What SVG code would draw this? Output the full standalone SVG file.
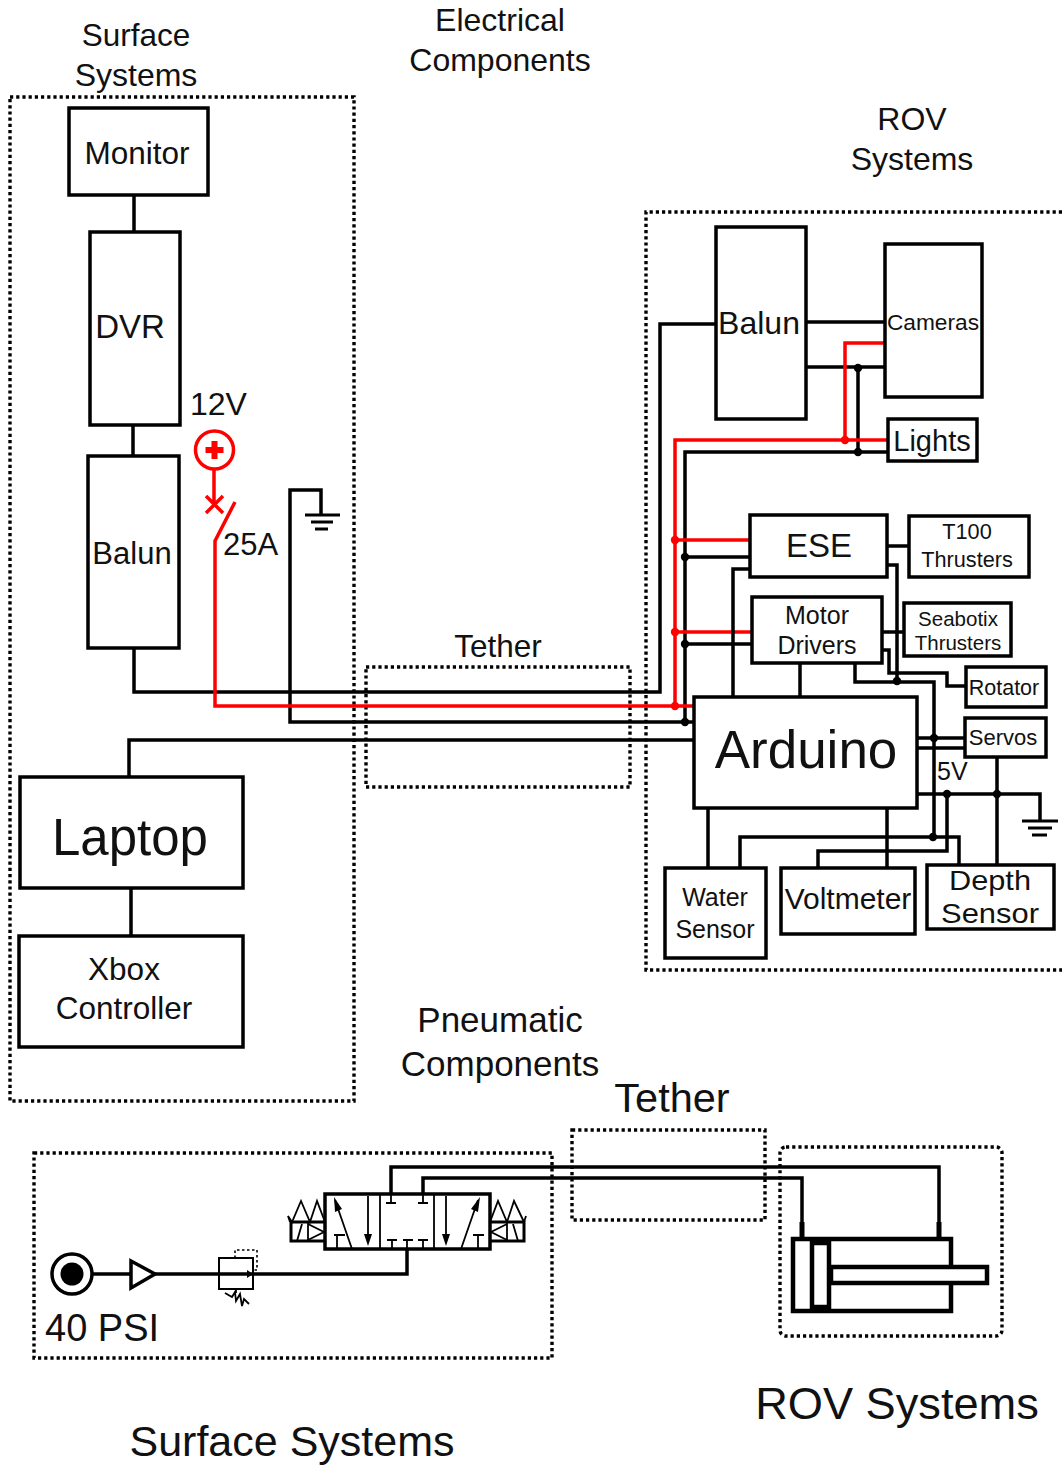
<svg xmlns="http://www.w3.org/2000/svg" width="1062" height="1465" viewBox="0 0 1062 1465">
<style>
text{font-family:"Liberation Sans",Arial,sans-serif;fill:#111;text-anchor:middle}
.s{text-anchor:start}
.n{fill:#fff;stroke:#000;stroke-width:3.5}
.w{fill:none;stroke:#000;stroke-width:3.5}
.r{fill:none;stroke:#f00;stroke-width:3.5}
.t{fill:none;stroke:#000;stroke-width:1.8}
.d{fill:none;stroke:#000;stroke-width:3.4;stroke-dasharray:3.2 3}
.dk{fill:#000}
.dr{fill:#f00}
</style>
<g id="boundaries">
<rect class="d" x="10" y="97" width="344" height="1004"/>
<path class="d" d="M1062 212H646V970H1062"/>
<rect class="d" x="366" y="667" width="264" height="120"/>
<rect class="d" x="34" y="1153" width="518" height="205"/>
<rect class="d" x="572" y="1130" width="193" height="90"/>
<rect class="d" x="780" y="1147" width="222" height="189" rx="6"/>
</g>
<g id="connectors">
<path class="w" d="M134 195V232M133 425V456M131 888V936"/>
<path class="w" d="M134 648V692H660V324H716"/>
<path class="w" d="M129 777V740H694"/>
<path class="w" d="M693 722H290V490H321V515"/>
<path class="w" d="M305 515H340M311 522H333M315 529H328" style="stroke-width:3"/>
<path class="w" d="M685 722V452H888"/>
<path class="w" d="M806 322H885M806 367H885M858 367V452"/>
<path class="r" d="M885 343H845V440"/>
<path class="r" d="M693 706H215V541L235 502"/>
<path class="r" d="M675 706V440H888"/>
<path class="r" d="M214 469V503M206 496L223 513M223 496L206 513"/>
<path class="r" d="M675 540H750M675 632H752"/>
<path class="w" d="M685 557H750M685 644H752M750 569H733V697M800 663V697"/>
<path class="w" d="M887 546H909M882 632H904"/>
<path class="w" d="M887 565H897V681"/>
<path class="w" d="M882 650H889V673H947V686H966"/>
<path class="w" d="M855 663V682H934V838"/>
<path class="w" d="M917 738H965M917 748H965M917 794H1040V821"/>
<path class="w" d="M1022 821H1058M1028 828H1052M1032 835H1047" style="stroke-width:3"/>
<path class="w" d="M947 794V851H818V868M997 757V865M708 808V868M887 808V868M740 868V837H959V865"/>
<g class="dk">
<circle cx="858" cy="368" r="4.2"/><circle cx="858" cy="452" r="4.2"/>
<circle cx="685" cy="557" r="4.2"/><circle cx="685" cy="644" r="4.2"/><circle cx="685" cy="722" r="4.2"/>
<circle cx="897" cy="681" r="4.2"/><circle cx="934" cy="738" r="4.2"/><circle cx="933" cy="837" r="4.2"/>
<circle cx="947" cy="794" r="4.2"/><circle cx="997" cy="794" r="4.2"/>
</g>
<g class="dr">
<circle cx="845" cy="440" r="4.2"/><circle cx="675" cy="540" r="4.2"/><circle cx="675" cy="632" r="4.2"/><circle cx="675" cy="706" r="4.2"/>
</g>
<path class="w" d="M92 1274H130M155 1274H407V1249"/>
<path class="w" d="M391 1194V1167H939V1222"/>
<path class="w" d="M423 1194V1178H802V1222"/>
<path class="w" d="M802 1222V1238M939 1222V1238" style="stroke-width:5"/>
</g>
<g id="monitor"><rect class="n" x="69" y="108" width="139" height="87"/><text x="137" y="164" font-size="31.5">Monitor</text></g>
<g id="dvr"><rect class="n" x="90" y="232" width="90" height="193"/><text x="130" y="338" font-size="33">DVR</text></g>
<g id="balun-surface"><rect class="n" x="88" y="456" width="91" height="192"/><text x="132" y="564" font-size="31">Balun</text></g>
<g id="laptop"><rect class="n" x="20" y="777" width="223" height="111"/><text x="130" y="855" font-size="51">Laptop</text></g>
<g id="xbox"><rect class="n" x="19" y="936" width="224" height="111"/><text x="124" y="980" font-size="31.5">Xbox</text><text x="124" y="1019" font-size="31.5">Controller</text></g>
<g id="source-12v">
<circle cx="214.500" cy="450" r="19" fill="#fff" stroke="#f00" stroke-width="3.500"/>
<path d="M214.500 441V459M205.500 450H223.500" stroke="#f00" stroke-width="6" fill="none"/>
</g>
<g id="balun-rov"><rect class="n" x="716" y="227" width="90" height="192"/><text x="759" y="334" font-size="32">Balun</text></g>
<g id="cameras"><rect class="n" x="885" y="244" width="97" height="153"/><text x="933" y="330" font-size="22.700">Cameras</text></g>
<g id="lights"><rect class="n" x="888" y="419" width="89" height="42"/><text x="932" y="451" font-size="29">Lights</text></g>
<g id="ese"><rect class="n" x="750" y="515" width="137" height="62"/><text x="819" y="557" font-size="33">ESE</text></g>
<g id="t100"><rect class="n" x="909" y="516" width="120" height="61"/><text x="967" y="539" font-size="21.700">T100</text><text x="967" y="567" font-size="21.700">Thrusters</text></g>
<g id="motor-drivers"><rect class="n" x="752" y="597" width="130" height="66"/><text x="817" y="624" font-size="25">Motor</text><text x="817" y="654" font-size="25">Drivers</text></g>
<g id="seabotix"><rect class="n" x="904" y="603" width="107" height="53"/><text x="958" y="626" font-size="20.500">Seabotix</text><text x="958" y="650" font-size="20.500">Thrusters</text></g>
<g id="rotator"><rect class="n" x="966" y="667" width="80" height="40"/><text x="1004" y="695" font-size="21.500">Rotator</text></g>
<g id="servos"><rect class="n" x="965" y="718" width="81" height="39"/><text x="1003" y="745" font-size="22">Servos</text></g>
<g id="arduino"><rect class="n" x="694" y="697" width="223" height="111"/><text x="806" y="768" font-size="53">Arduino</text></g>
<g id="water"><rect class="n" x="665" y="868" width="101" height="90"/><text x="715" y="906" font-size="25">Water</text><text x="715" y="938" font-size="25">Sensor</text></g>
<g id="voltmeter"><rect class="n" x="781" y="868" width="134" height="66"/><text x="848" y="909" font-size="30">Voltmeter</text></g>
<g id="depth"><rect class="n" x="927" y="865" width="127" height="64"/><text x="990" y="890" font-size="28" textLength="82" lengthAdjust="spacingAndGlyphs">Depth</text><text x="990" y="923" font-size="28" textLength="98" lengthAdjust="spacingAndGlyphs">Sensor</text></g>
<g id="air-source"><circle cx="72" cy="1274" r="20" fill="#fff" stroke="#000" stroke-width="3.500"/><circle cx="72" cy="1274" r="11.500" fill="#000"/></g>
<g id="check"><path d="M131 1261L155 1274L131 1288Z" fill="#fff" stroke="#000" stroke-width="3.500"/></g>
<g id="regulator">
<rect x="219" y="1258" width="34" height="31" fill="none" stroke="#000" stroke-width="2"/>
<path d="M235 1258V1250H257V1270H253" fill="none" stroke="#000" stroke-width="1.600" stroke-dasharray="2.500 2.500"/>
<path d="M247 1270L253 1274L247 1278Z" fill="#000"/>
<path d="M236 1289V1293M225 1293L232 1297L235 1292L236 1301L240 1294L242 1306L244 1299L249 1304" class="t"/>
</g>
<g id="valve">
<rect x="325" y="1194" width="165" height="55" fill="#fff" stroke="#000" stroke-width="3.500"/>
<path d="M380 1194V1249M434 1194V1249" class="t"/>
<path d="M352 1249L335 1200M368 1196V1243M446 1196V1243M461 1249L478 1200" class="t"/>
<g class="dk"><path d="M334 1197L342 1209L335 1212Z"/><path d="M364 1234H372L368 1246Z"/><path d="M442 1234H450L446 1246Z"/><path d="M480 1197L478 1212L471 1209Z"/></g>
<path class="t" d="M334 1235H345M337 1235V1249M473 1235H484M478 1235V1249M391 1194V1203M386 1203H396M423 1194V1203M418 1203H428M387 1240H397M392 1240V1249M403 1240H413M407 1240V1249M418 1240H428M423 1240V1249"/>
<path d="M325 1222H291V1241H325" fill="none" stroke="#000" stroke-width="3"/>
<path d="M490 1222H524V1241H490" fill="none" stroke="#000" stroke-width="3"/>
<path class="t" d="M290 1222L288 1216L292 1222L301 1201L310 1222L317 1201L325 1222M308 1222V1241M297 1241L302 1224M308 1224L324 1232L308 1240"/>
<path class="t" d="M490 1222L498 1201L507 1222L514 1201L524 1222L526 1216M507 1222V1241M518 1241L513 1224M507 1224L491 1232L507 1240"/>
</g>
<g id="cylinder">
<rect x="793" y="1239" width="158" height="72" fill="#fff" stroke="#000" stroke-width="4.500"/>
<rect x="812" y="1243" width="17" height="64" fill="#fff" stroke="#000" stroke-width="4.500"/>
<path d="M812 1241H829M812 1309H829" stroke="#000" stroke-width="5" fill="none"/>
<rect x="831" y="1267" width="156" height="16" fill="#fff" stroke="#000" stroke-width="4.500"/>
</g>
<g id="labels">
<text x="136" y="46" font-size="31.500">Surface</text><text x="136" y="86" font-size="32">Systems</text>
<text x="500" y="31" font-size="32">Electrical</text><text x="500" y="71" font-size="32">Components</text>
<text x="912" y="130" font-size="32">ROV</text><text x="912" y="170" font-size="32">Systems</text>
<text x="498" y="657" font-size="31.500">Tether</text>
<text class="s" x="190" y="415" font-size="32">12V</text>
<text class="s" x="223" y="555" font-size="31">25A</text>
<text class="s" x="937" y="780" font-size="25">5V</text>
<text x="500" y="1032" font-size="35">Pneumatic</text><text x="500" y="1076" font-size="35">Components</text>
<text x="672" y="1112" font-size="41.500">Tether</text>
<text class="s" x="45" y="1341" font-size="38">40 PSI</text>
<text x="292" y="1456" font-size="43">Surface Systems</text>
<text x="897" y="1419" font-size="45.200">ROV Systems</text>
</g>
</svg>
